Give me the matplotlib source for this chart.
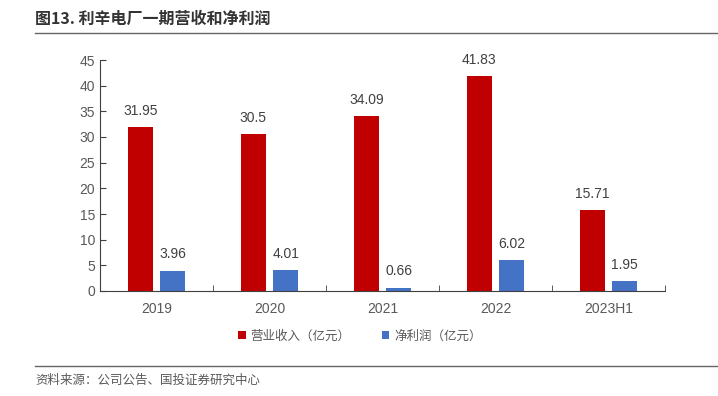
import matplotlib.pyplot as plt
import numpy as np

plt.rcParams['font.family'] = ['Noto Sans CJK SC', 'DejaVu Sans']

# 数据
years = ['2019', '2020', '2021', '2022', '2023H1']
revenue = [31.95, 30.5, 34.09, 41.83, 15.71]
profit = [3.96, 4.01, 0.66, 6.02, 1.95]
rev_labels = ['31.95', '30.5', '34.09', '41.83', '15.71']
prof_labels = ['3.96', '4.01', '0.66', '6.02', '1.95']

red = '#C00000'
blue = '#4472C4'
grey = '#595959'
num_font = 'Liberation Sans'

fig = plt.figure(figsize=(7.18, 3.96), dpi=100)
ax = fig.add_axes([100 / 718, 1 - 291 / 396, 565 / 718, 231 / 396])

x = np.arange(len(years))
w = 0.22
b1 = ax.bar(x - 0.143, revenue, w, color=red, label='营业收入（亿元）')
b2 = ax.bar(x + 0.143, profit, w, color=blue, label='净利润（亿元）')

for rect, lab in zip(b1, rev_labels):
    ax.text(rect.get_x() + rect.get_width() / 2, rect.get_height() + 1.8, lab,
            ha='center', va='bottom', fontsize=10, color='#404040', family=num_font)
for rect, lab in zip(b2, prof_labels):
    ax.text(rect.get_x() + rect.get_width() / 2, rect.get_height() + 1.8, lab,
            ha='center', va='bottom', fontsize=10, color='#404040', family=num_font)

ax.set_xlim(-0.5, 4.5)
ax.set_ylim(0, 45)
ax.set_yticks(range(0, 46, 5))
ax.set_xticks(x)
ax.set_xticklabels(years)
ax.set_xticks(np.arange(-0.5, 5, 1), minor=True)
ax.tick_params(axis='x', which='major', length=0, pad=8)
ax.tick_params(axis='x', which='minor', length=4, direction='in', color='#404040')
ax.tick_params(axis='y', length=4, direction='in', color='#404040')
ax.tick_params(labelsize=10, labelcolor=grey)
for lab in ax.get_xticklabels() + ax.get_yticklabels():
    lab.set_family(num_font)
ax.spines['top'].set_visible(False)
ax.spines['right'].set_visible(False)
ax.spines['left'].set_color('#404040')
ax.spines['bottom'].set_color('#404040')

leg = ax.legend(loc='center', bbox_to_anchor=(360 / 718, 1 - 336 / 396),
                bbox_transform=fig.transFigure, ncol=2, frameon=False,
                fontsize=9, handlelength=0.6, handleheight=0.6, handletextpad=0.4,
                columnspacing=2.5)
for t in leg.get_texts():
    t.set_color(grey)

# 标题和来源
fig.text(35 / 718, 1 - 19 / 396, '图13. 利辛电厂一期营收和净利润', fontsize=11.5,
         fontweight='bold', color='#333333', va='center')
fig.add_artist(plt.Line2D([35 / 718, 1], [1 - 33 / 396] * 2, color='#666666', lw=1))
fig.add_artist(plt.Line2D([35 / 718, 1], [1 - 366 / 396] * 2, color='#666666', lw=1))
fig.text(35 / 718, 1 - 380 / 396, '资料来源：公司公告、国投证券研究中心', fontsize=9,
         color='#595959', va='center', style='italic')

fig.savefig('out.png', dpi=100)
